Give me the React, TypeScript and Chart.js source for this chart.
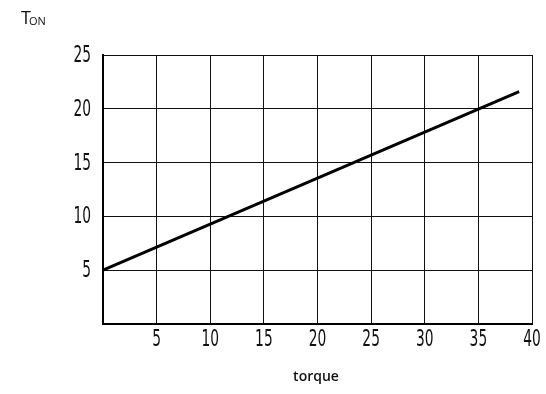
import React, { useEffect, useRef } from "react";
import { Chart, registerables } from "chart.js";

Chart.register(...registerables);

const xPoints = [0, 38.8];
const yPoints = [5, 21.6];
const xTicks = [0, 5, 10, 15, 20, 25, 30, 35, 40];
const yTicks = [0, 5, 10, 15, 20, 25];
const xTitle = "torque";
const yTitleMain = "T";
const yTitleSub = "ON";

const tickLabel = (v: number) => (v === 0 ? "" : String(v));

const drawNarrow = (ctx: any, text: string, x: number, y: number, align: string) => {
  ctx.save();
  ctx.translate(x, y);
  ctx.scale(0.6, 1);
  ctx.textAlign = align;
  ctx.fillText(text, 0, 0);
  ctx.restore();
};

const textPlugin = {
  id: "texts",
  afterDraw(chart: any) {
    const ctx = chart.ctx;
    const xs = chart.scales.x;
    const ys = chart.scales.y;
    ctx.save();
    ctx.fillStyle = "#111";
    ctx.font = '23px "DejaVu Sans", sans-serif';
    ctx.textBaseline = "middle";
    xTicks.forEach((v) => {
      const t = tickLabel(v);
      if (t) drawNarrow(ctx, t, xs.getPixelForValue(v), xs.top + 16, "center");
    });
    yTicks.forEach((v) => {
      const t = tickLabel(v);
      if (t) drawNarrow(ctx, t, ys.right - 12, ys.getPixelForValue(v) + 1, "right");
    });
    ctx.textBaseline = "alphabetic";
    ctx.textAlign = "left";
    ctx.font = '18px "Open Sans", sans-serif';
    ctx.fillText(yTitleMain, 21, 24);
    const tw = ctx.measureText(yTitleMain).width;
    ctx.font = '11px "Open Sans", sans-serif';
    ctx.fillText(yTitleSub, 21 + tw - 2, 25);
    ctx.font = '600 14px "Open Sans", sans-serif';
    ctx.textAlign = "center";
    ctx.fillText(xTitle, 316, 381);
    ctx.restore();
  },
};

export default function App() {
  const ref = useRef<HTMLCanvasElement>(null);
  useEffect(() => {
    const chart = new Chart(ref.current!, {
      type: "scatter",
      data: {
        datasets: [
          {
            data: xPoints.map((x, i) => ({ x, y: yPoints[i] })),
            showLine: true,
            borderColor: "#000",
            borderWidth: 3,
            pointRadius: 0,
          },
        ],
      },
      options: {
        responsive: false,
        animation: false,
        layout: { padding: { top: 55, right: 14, left: 0, bottom: 0 } },
        plugins: { legend: { display: false }, tooltip: { enabled: false } },
        scales: {
          x: {
            type: "linear",
            min: 0,
            max: 40,
            afterFit: (s: any) => {
              s.height = 70;
            },
            afterBuildTicks: (s: any) => {
              s.ticks = xTicks.map((v) => ({ value: v }));
            },
            ticks: { display: false },
            grid: { color: "#111", lineWidth: 1, drawTicks: false },
            border: { color: "#000", width: 2 },
          },
          y: {
            type: "linear",
            min: 0,
            max: 25,
            afterFit: (s: any) => {
              s.width = 103;
            },
            afterBuildTicks: (s: any) => {
              s.ticks = yTicks.map((v) => ({ value: v }));
            },
            ticks: { display: false },
            grid: { color: "#111", lineWidth: 1, drawTicks: false },
            border: { color: "#000", width: 2 },
          },
        },
      },
      plugins: [textPlugin],
    });
    return () => chart.destroy();
  }, []);
  return (
    <div style={{ position: "fixed", left: 0, top: 0, width: 546, height: 394, background: "#fff" }}>
      <canvas ref={ref} width={546} height={394} />
    </div>
  );
}
